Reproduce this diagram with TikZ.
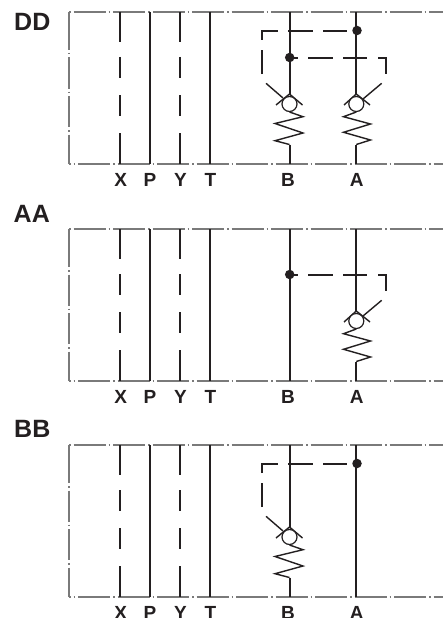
\documentclass[tikz,border=0pt]{standalone}
\usepackage{fontspec}
\setmainfont{Liberation Sans}
\definecolor{ink}{HTML}{231F20}
\definecolor{frameline}{HTML}{7A7A7A}
\tikzset{
  x=1pt,y=-1pt,
  frametop/.style={draw=frameline,line width=1.1pt,dash pattern=on 1.5pt off 3pt on 32pt off 3pt},
  framebot/.style={draw=frameline,line width=1.1pt,dash pattern=on 32pt off 3pt on 1.5pt off 3pt,dash phase=30.5pt},
  frameleft/.style={draw=frameline,line width=1.1pt,dash pattern=on 31pt off 3pt on 1.5pt off 3pt,dash phase=31.5pt},
  pipe/.style={draw=ink,line width=1.8pt},
  thin pipe/.style={draw=ink,line width=1.4pt},
  portdash/.style={draw=ink,line width=1.8pt,dash pattern=on 30pt off 15pt on 21pt off 17pt on 21pt off 17pt on 31pt},
  pilot/.style={draw=ink,line width=1.7pt},
  joint/.style={circle,fill=ink,inner sep=0pt,minimum size=9.5pt},
  ball/.style={circle,draw=ink,fill=white,line width=1.2pt,inner sep=0pt,minimum size=15pt},
  port/.style={font=\fontsize{19}{19}\selectfont\bfseries,text=ink,anchor=base,inner sep=0pt},
  title/.style={font=\fontsize{25}{25}\selectfont\bfseries,text=ink,anchor=base west,inner sep=0pt},
}
% frame, ports and labels of one panel; origin at the first panel
\newcommand{\panelbase}{
  \coordinate (tl) at (69,12); \coordinate (bl) at (69,164);
  \coordinate (tr) at (443,12); \coordinate (br) at (443,164);
  \coordinate (tk) at (69,19);
  \draw[frametop] (tl) -- (tr);
  \draw[framebot] (bl) -- (br);
  \draw[frameleft] (tl) -- (bl);
  \draw[draw=frameline,line width=1.1pt] (tl) -- (tk);
  \foreach \n/\xx/\st in {X/120/portdash,P/150/pipe,Y/180/portdash,T/210/pipe}{
    \coordinate (\n t) at (\xx,12); \coordinate (\n b) at (\xx,164);
    \draw[\st] (\n t) -- (\n b);
  }
  \node[port] (lx) at (120.7,186) {X};
  \node[port] (lp) at (150,186) {P};
  \node[port] (ly) at (180.5,186) {Y};
  \node[port] (lt) at (210.5,186) {T};
  \node[port] (lb) at (288,186) {B};
  \node[port] (la) at (356.7,186) {A};
}
% check valve on port B (lever to the left)
\newcommand{\valveB}{
  \draw[pipe] (289.9,12) -- (289.9,94);
  \draw[thin pipe] (276,105) -- (289.5,94) -- (302.5,105);
  \draw[thin pipe] (289.5,112) -- (303,116.7) -- (275,123.5) -- (303,133) -- (275,140.7) -- (289.5,144.5);
  \draw[pipe] (289.9,144.5) -- (289.9,164);
  \draw[thin pipe] (266,83.3) -- (283,98);
  \node[ball] (vb) at (289.5,104) {};
}
% check valve on port A (lever to the right)
\newcommand{\valveA}{
  \draw[pipe] (356.3,12) -- (356.3,94);
  \draw[thin pipe] (344,105) -- (356.3,94) -- (370,105);
  \draw[thin pipe] (356.3,112) -- (343.5,116.7) -- (370.5,124) -- (343.5,132.3) -- (370.5,140) -- (356.3,144.5);
  \draw[pipe] (356.3,144.5) -- (356.3,164);
  \draw[thin pipe] (381.7,83.3) -- (363,99);
  \node[ball] (va) at (356.3,104) {};
}
% dashed pilot line from B up to A
\newcommand{\pilotB}{
  \draw[pilot] (262,74) -- (262,50) (262,40) -- (262,31) -- (278,31)
    (288,31) -- (313,31) (323,31) -- (347,31);
}
% dashed pilot line from A across to B
\newcommand{\pilotA}{
  \draw[pilot] (294,57.7) -- (298,57.7) (308,57.7) -- (333,57.7)
    (343,57.7) -- (367,57.7) (378,57.7) -- (386,57.7) -- (386,74);
}
\begin{document}
\begin{tikzpicture}
\useasboundingbox (0,0) rectangle (443,618);
\fill[white] (0,0) rectangle (443,618);
% DD
\begin{scope}
  \panelbase \valveB \valveA \pilotB \pilotA
  \node[joint] (j1) at (357,30.5) {};
  \node[joint] (j2) at (289.7,57.5) {};
\end{scope}
\node[title] (dd) at (14,30.7) {DD};
% AA
\begin{scope}[yshift=-217pt]
  \panelbase \valveA \pilotA
  \draw[pipe] (289.9,12) -- (289.9,164);
  \node[joint] (j3) at (289.7,57.5) {};
\end{scope}
\node[title] (aa) at (13.5,222) {AA};
% BB
\begin{scope}[yshift=-433pt]
  \panelbase \valveB \pilotB
  \draw[pipe] (356.3,12) -- (356.3,164);
  \node[joint] (j4) at (357,30.5) {};
\end{scope}
\node[title] (bb) at (14,437) {BB};
\end{tikzpicture}
\end{document}
